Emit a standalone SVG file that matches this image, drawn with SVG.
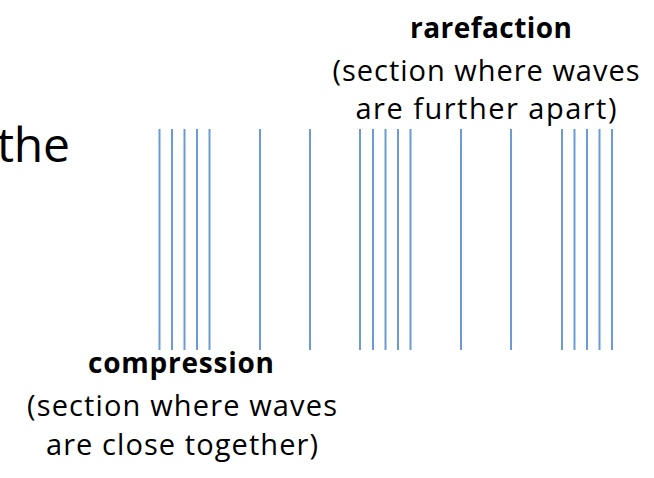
<svg xmlns="http://www.w3.org/2000/svg" width="654" height="478" viewBox="0 0 654 478">
<style>
.l{stroke:#6a9bd4;stroke-width:2}
text{font-family:"Open Sans","Liberation Sans",sans-serif;fill:#000;text-anchor:middle}
.b{font-weight:bold}
</style>
<rect width="654" height="478" fill="#fff"/>
<text x="-3" y="162" font-size="48" textLength="73" style="text-anchor:start">the</text>
<g id="lines">
<path class="l" d="M159.5 129V350M172 129V350M184.5 129V350M197 129V350M209.5 129V350M260 129V350M310 129V350M360 129V350M373 129V350M385.5 129V350M398 129V350M410.5 129V350M461 129V350M511 129V350M562 129V350M574.5 129V350M587 129V350M599.5 129V350M612 129V350"/>
</g>
<g id="rarefaction">
<text class="b" x="491" y="38" font-size="28" textLength="162">rarefaction</text>
<text x="486" y="81" font-size="29" textLength="307">(section where waves</text>
<text x="486" y="119" font-size="29" textLength="261">are further apart)</text>
</g>
<g id="compression">
<text class="b" x="181" y="373" font-size="28" textLength="186">compression</text>
<text x="182" y="416" font-size="29" textLength="310">(section where waves</text>
<text x="182" y="455" font-size="29" textLength="272">are close together)</text>
</g>
</svg>
